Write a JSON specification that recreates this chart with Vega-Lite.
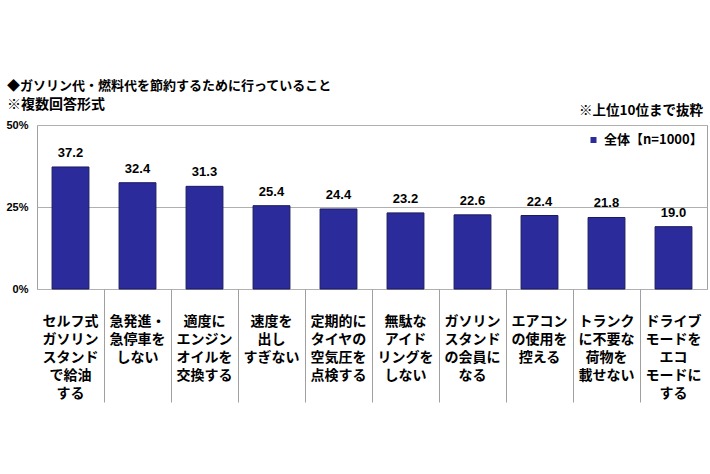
{
  "$schema": "https://vega.github.io/schema/vega-lite/v6.json",
  "width": 670,
  "height": 164,
  "autosize": {"type": "none"},
  "padding": {"left": 37, "top": 125, "right": 3, "bottom": 185},
  "background": "white",
  "title": {
    "text": "◆ガソリン代・燃料代を節約するために行っていること",
    "subtitle": "\u2002※複数回答形式",
    "anchor": "start",
    "frame": "group",
    "dx": -30,
    "offset": -8,
    "font": "Noto Sans CJK JP",
    "fontSize": 13,
    "fontWeight": "bold",
    "color": "black",
    "subtitleFont": "Noto Sans CJK JP",
    "subtitleFontSize": 14,
    "subtitleFontWeight": "bold",
    "subtitleColor": "black",
    "subtitlePadding": 5
  },
  "config": {"view": {"stroke": "#a0a0a0", "strokeWidth": 1}},
  "data": {
    "values": [
      {"item": "セルフ式|ガソリン|スタンド|で給油|する", "pct": 37.2, "series": "全体【n=1000】"},
      {"item": "急発進・|急停車を|しない", "pct": 32.4, "series": "全体【n=1000】"},
      {"item": "適度に|エンジン|オイルを|交換する", "pct": 31.3, "series": "全体【n=1000】"},
      {"item": "速度を|出し|すぎない", "pct": 25.4, "series": "全体【n=1000】"},
      {"item": "定期的に|タイヤの|空気圧を|点検する", "pct": 24.4, "series": "全体【n=1000】"},
      {"item": "無駄な|アイド|リングを|しない", "pct": 23.2, "series": "全体【n=1000】"},
      {"item": "ガソリン|スタンド|の会員に|なる", "pct": 22.6, "series": "全体【n=1000】"},
      {"item": "エアコン|の使用を|控える", "pct": 22.4, "series": "全体【n=1000】"},
      {"item": "トランク|に不要な|荷物を|載せない", "pct": 21.8, "series": "全体【n=1000】"},
      {"item": "ドライブ|モードを|エコ|モードに|する", "pct": 19.0, "series": "全体【n=1000】"}
    ]
  },
  "layer": [
    {
      "mark": {"type": "bar", "width": {"band": 0.55}, "stroke": "#1a1a60", "strokeWidth": 1},
      "encoding": {
        "x": {
          "field": "item", "type": "nominal", "sort": null,
          "scale": {"paddingInner": 0, "paddingOuter": 0},
          "axis": {
            "title": null,
            "bandPosition": 0,
            "domain": false,
            "grid": false,
            "tickSize": 113,
            "tickColor": "#a0a0a0",
            "tickOpacity": {"condition": {"test": "datum.index == 0", "value": 0}, "value": 1},
            "labelExpr": "split(datum.label, '|')",
            "labelAngle": 0,
            "labelBaseline": "top",
            "labelPadding": -88,
            "labelFont": "Noto Sans CJK JP",
            "labelFontSize": 14,
            "labelFontWeight": "bold",
            "labelColor": "black",
            "labelLineHeight": 18
          }
        },
        "y": {
          "field": "pct", "type": "quantitative",
          "scale": {"domain": [0, 50]},
          "axis": {
            "values": [0, 25, 50],
            "labelExpr": "datum.value + '%'",
            "title": null,
            "ticks": false,
            "domain": false,
            "labelPadding": 9,
            "labelFont": "Liberation Sans",
            "labelFontSize": 11,
            "labelFontWeight": "bold",
            "labelColor": "black",
            "gridColor": "#b0b0b0"
          }
        },
        "color": {
          "field": "series", "type": "nominal",
          "scale": {"range": ["#2b2b9b"]},
          "legend": {
            "orient": "none",
            "legendX": 541,
            "legendY": -21,
            "title": "※上位10位まで抜粋",
            "titleFont": "Noto Sans CJK JP",
            "titleFontSize": 13.5,
            "titleFontWeight": "bold",
            "titleColor": "black",
            "titleAnchor": "end",
            "titlePadding": 16,
            "labelFont": "Noto Sans CJK JP",
            "labelFontSize": 13,
            "labelFontWeight": "bold",
            "labelColor": "black",
            "symbolType": "square",
            "symbolSize": 36,
            "symbolStrokeWidth": 0,
            "symbolOffset": 9
          }
        }
      }
    },
    {
      "mark": {"type": "text", "dy": -7, "baseline": "bottom", "font": "Liberation Sans", "fontWeight": "bold", "fontSize": 13, "color": "black"},
      "encoding": {
        "x": {"field": "item", "type": "nominal", "sort": null},
        "y": {"field": "pct", "type": "quantitative"},
        "text": {"field": "pct", "type": "quantitative", "format": ".1f"}
      }
    }
  ]
}
